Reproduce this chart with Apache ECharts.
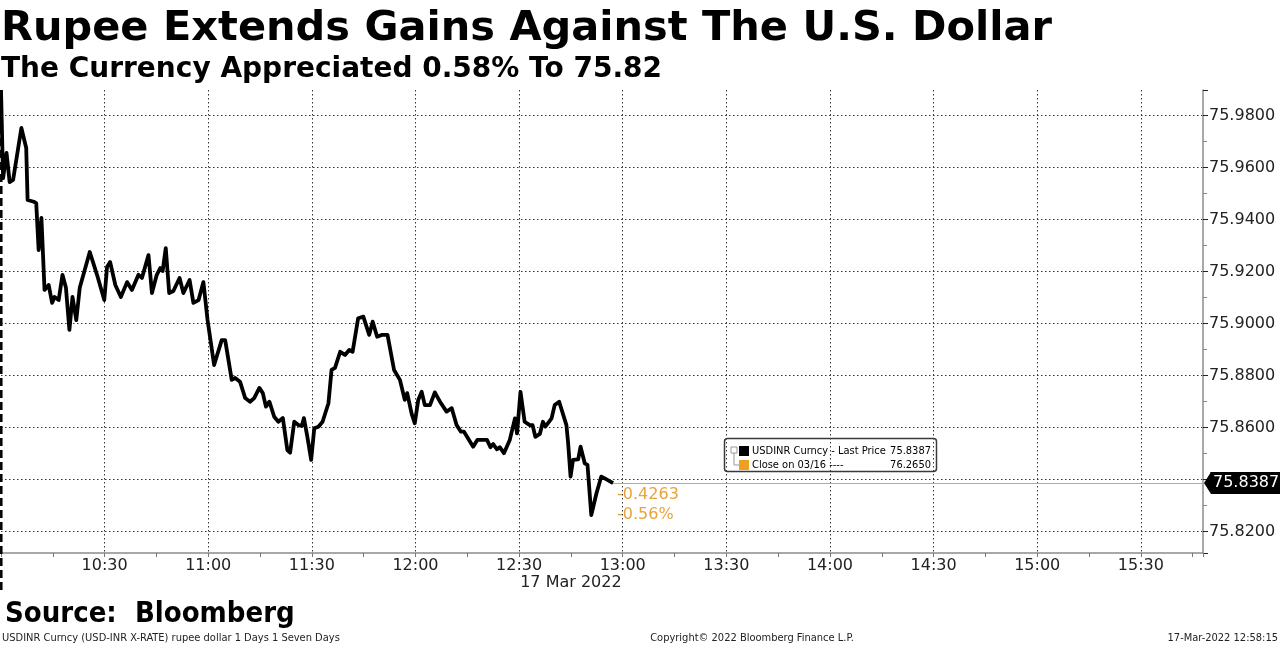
<!DOCTYPE html>
<html lang="en">
<head>
<meta charset="UTF-8">
<title>Rupee Extends Gains Against The U.S. Dollar</title>
<script src="https://cdn.jsdelivr.net/npm/echarts@6/dist/echarts.min.js"></script>
<style>
  html, body { margin: 0; padding: 0; background: #fff; }
  #chart { width: 1280px; height: 646px; }
</style>
</head>
<body>
<div id="chart"></div>
<script>
// minutes after the 10:00 open
const minutes = [0, 0.6, 1.6, 2.5, 3.5, 5.9, 7.3, 7.7, 9.5, 10.2, 10.9, 11.7, 12.6, 13.8, 14.8, 15.5, 16.7, 17.8, 18.8, 19.8,
  20.7, 21.8, 22.8, 25.7, 27.8, 29.9, 30.7, 31.6, 33.1, 34.7, 36.5, 37.9, 39.8, 40.8, 42.7, 43.7, 45.1, 46.1, 46.8, 47.7,
  48.7, 49.9, 51.7, 52.8, 54.6, 55.7, 57.2, 58.6, 59.8, 61.7, 63.9, 64.9, 66.8, 67.8, 69.2, 70.7, 72.1, 73.3, 74.8, 75.8,
  76.7, 77.7, 79.1, 80.3, 81.6, 82.9, 83.7, 84.9, 86.1, 87.1, 87.7, 88.7, 89.8, 90.7, 91.9, 93.1, 94.8, 95.7, 96.7, 98.2,
  99.6, 100.8, 101.8, 103.4, 104.9, 106.6, 107.6, 108.9, 110.2, 111.9, 113.8, 115.5, 116.9, 117.6, 118.9, 119.8, 120.8,
  121.8, 122.7, 124.2, 125.6, 127.1, 129.0, 130.5, 131.9, 133.1, 134.0, 136.7, 137.9, 140.7, 141.7, 142.5, 143.6, 144.4,
  145.6, 147.3, 148.8, 149.4, 150.4, 151.6, 153.1, 153.9, 154.7, 156.0, 156.9, 157.6, 159.4, 160.3, 161.6, 163.7, 164.2,
  164.9, 165.6, 167.1, 167.8, 169.0, 169.8, 170.9, 172.4, 173.8, 174.8, 177.2];
// USDINR last price at each of those minutes
const prices = [75.9899, 75.9560, 75.9657, 75.9545, 75.9553, 75.9753, 75.9676, 75.9476, 75.9469, 75.9464, 75.9283, 75.9407,
  75.9130, 75.9149, 75.9080, 75.9103, 75.9091, 75.9188, 75.9138, 75.8976, 75.9103, 75.9014, 75.9138, 75.9276, 75.9188,
  75.9091, 75.9218, 75.9237, 75.9149, 75.9103, 75.9160, 75.9130, 75.9188, 75.9176, 75.9264, 75.9118, 75.9188, 75.9214,
  75.9203, 75.9291, 75.9118, 75.9126, 75.9176, 75.9118, 75.9168, 75.9080, 75.9091, 75.9160, 75.9014, 75.8841, 75.8937,
  75.8937, 75.8784, 75.8791, 75.8777, 75.8714, 75.8700, 75.8714, 75.8753, 75.8733, 75.8681, 75.8700, 75.8642, 75.8623,
  75.8637, 75.8514, 75.8504, 75.8623, 75.8610, 75.8607, 75.8637, 75.8565, 75.8476, 75.8598, 75.8604, 75.8623, 75.8694,
  75.8822, 75.8830, 75.8892, 75.8880, 75.8899, 75.8892, 75.9021, 75.9027, 75.8957, 75.9008, 75.8950, 75.8957, 75.8957,
  75.8822, 75.8784, 75.8707, 75.8733, 75.8653, 75.8617, 75.8707, 75.8738, 75.8687, 75.8687, 75.8736, 75.8700, 75.8662,
  75.8675, 75.8610, 75.8585, 75.8585, 75.8527, 75.8553, 75.8553, 75.8525, 75.8537, 75.8517, 75.8525, 75.8502, 75.8553,
  75.8636, 75.8578, 75.8738, 75.8623, 75.8610, 75.8610, 75.8565, 75.8576, 75.8623, 75.8604, 75.8636, 75.8687, 75.8700,
  75.8610, 75.8540, 75.8412, 75.8476, 75.8478, 75.8527, 75.8463, 75.8457, 75.8264, 75.8348, 75.8412, 75.8405, 75.8387];
const lastPrice = 75.8387;
const prevClose = 76.2650;
const dayStart = 600;   // 10:00 in minutes
const dayEnd = 948;     // right edge of plot, about 15:48
const dateMinute = 765; // date label sits under 12:45
const yMin = 75.8118, yMax = 75.9899;

const orange = '#e8a33d';
const cond = "'DejaVu Sans Condensed', 'DejaVu Sans', sans-serif";
const sans = "'DejaVu Sans', Verdana, sans-serif";

function clock(m) {
  const h = Math.floor(m / 60), mm = Math.round(m % 60);
  return h + ':' + String(mm).padStart(2, '0');
}

const chart = echarts.init(document.getElementById('chart'));
const lastMinute = minutes[minutes.length - 1];
const change = lastPrice - prevClose;
const pct = change / prevClose * 100;
const dotted = { color: '#333', type: [1.5, 2.5], width: 1 };

chart.setOption({
  animation: false,
  grid: { left: 1, right: 77, top: 90, bottom: 93 },
  xAxis: {
    type: 'value', min: dayStart, max: dayEnd, interval: 30,
    axisLine: { lineStyle: { color: '#8c8c8c', width: 1.5 } },
    axisTick: { length: 4, lineStyle: { color: '#777' } },
    minorTick: { show: true, splitNumber: 2, length: 4, lineStyle: { color: '#777' } },
    axisLabel: { formatter: clock, showMinLabel: false, showMaxLabel: false,
      color: '#222', fontSize: 16, fontFamily: sans, margin: 5 },
    splitLine: { show: true, showMinLine: false, showMaxLine: false, lineStyle: dotted }
  },
  yAxis: {
    type: 'value', position: 'right', min: yMin, max: yMax, splitNumber: 9,
    axisLine: { show: true, lineStyle: { color: '#8c8c8c', width: 1.5 } },
    axisTick: { show: true, length: 5, lineStyle: { color: '#222' } },
    minorTick: { show: true, splitNumber: 2, length: 4, lineStyle: { color: '#888' } },
    axisLabel: { formatter: v => v.toFixed(4), showMinLabel: false, showMaxLabel: false,
      color: '#222', fontSize: 16, fontFamily: sans, margin: 6 },
    splitLine: { show: true, showMinLine: false, showMaxLine: false, lineStyle: dotted }
  },
  series: [{
    type: 'line',
    data: minutes.map((m, i) => [dayStart + m, prices[i]]),
    showSymbol: false, symbol: 'none', z: 5,
    lineStyle: { color: '#000', width: 3.8, join: 'round' },
    markLine: {
      silent: true, symbol: 'none', label: { show: false },
      lineStyle: { color: orange, width: 1.2, type: 'solid' },
      data: [[{ coord: [dayStart + lastMinute, lastPrice] }, { coord: [dayEnd, lastPrice] }]]
    }
  }]
});

// overlays placed from the axes
const [x0, yTop] = chart.convertToPixel({ gridIndex: 0 }, [dayStart, yMax]);
const [xEnd, yLast] = chart.convertToPixel({ gridIndex: 0 }, [dayEnd, lastPrice]);
const [xLast] = chart.convertToPixel({ gridIndex: 0 }, [dayStart + lastMinute, lastPrice]);
const [xDate] = chart.convertToPixel({ gridIndex: 0 }, [dateMinute, lastPrice]);

function txt(text, x, y, size, opts, z) {
  return { type: 'text', x: x, y: y, silent: true, z: z || 20,
    style: Object.assign({ text: text, fill: '#000', font: size + 'px ' + sans, verticalAlign: 'middle' }, opts || {}) };
}

chart.setOption({
  graphic: [
    txt('Rupee Extends Gains Against The U.S. Dollar', 1, 29, 41.5, { font: 'bold 41.5px ' + sans }),
    txt('The Currency Appreciated 0.58% To 75.82', 1, 69.5, 28, { font: 'bold 28px ' + sans }),
    txt('Source:  Bloomberg', 5, 614, 29, { font: 'bold 29px ' + cond }),
    txt('USDINR Curncy (USD-INR X-RATE) rupee dollar 1 Days 1 Seven Days', 2, 638, 11, { font: '11px ' + cond, fill: '#222' }),
    txt('Copyright\u00A9 2022 Bloomberg Finance L.P.', 752, 638, 11, { font: '11px ' + cond, fill: '#222', align: 'center' }),
    txt('17-Mar-2022 12:58:15', 1278, 638, 11, { font: '11px ' + cond, fill: '#222', align: 'right' }),
    txt('17 Mar 2022', xDate, 583, 16, { fill: '#222', align: 'center' }),
    // day separator at the open
    { type: 'line', silent: true, z: 4,
      shape: { x1: x0 + 0.3, y1: yTop, x2: x0 + 0.3, y2: 593 },
      style: { stroke: '#000', lineWidth: 2.5, lineDash: [8, 4] } },
    // change versus previous close
    txt(change.toFixed(4), xLast + 4, yLast + 12, 16, { fill: orange }),
    txt(pct.toFixed(2) + '%', xLast + 4, yLast + 32, 16, { fill: orange }),
    // last price flag on the axis
    { type: 'polygon', silent: true, z: 30,
      shape: { points: [[xEnd + 1, yLast], [xEnd + 8, yLast - 11], [1280, yLast - 11], [1280, yLast + 11], [xEnd + 8, yLast + 11]] },
      style: { fill: '#000' } },
    txt(lastPrice.toFixed(4), xEnd + 10, yLast, 16, { fill: '#fff' }, 31),
    // legend box
    { type: 'rect', silent: true, z: 20,
      shape: { x: 724.5, y: 438.5, width: 212, height: 33, r: 3 },
      style: { fill: 'rgba(255,255,255,0)', stroke: '#3a3a3a', lineWidth: 1.5 } },
    { type: 'rect', silent: true, z: 21, shape: { x: 731, y: 447, width: 6, height: 6 },
      style: { fill: 'none', stroke: '#999', lineWidth: 1 } },
    { type: 'polyline', silent: true, z: 21, shape: { points: [[734, 453], [734, 465], [739, 465]] },
      style: { stroke: '#999', lineWidth: 1 } },
    { type: 'rect', silent: true, z: 21, shape: { x: 739, y: 446, width: 10, height: 10 }, style: { fill: '#000' } },
    { type: 'rect', silent: true, z: 21, shape: { x: 739, y: 460, width: 10, height: 10 }, style: { fill: '#f0a020' } },
    txt('USDINR Curncy - Last Price', 752, 451, 11, { font: '11px ' + cond }),
    txt(lastPrice.toFixed(4), 931, 451, 11, { font: '11px ' + cond, align: 'right' }),
    txt('Close on 03/16 ----', 752, 465, 11, { font: '11px ' + cond }),
    txt(prevClose.toFixed(4), 931, 465, 11, { font: '11px ' + cond, align: 'right' })
  ]
});
</script>
</body>
</html>
